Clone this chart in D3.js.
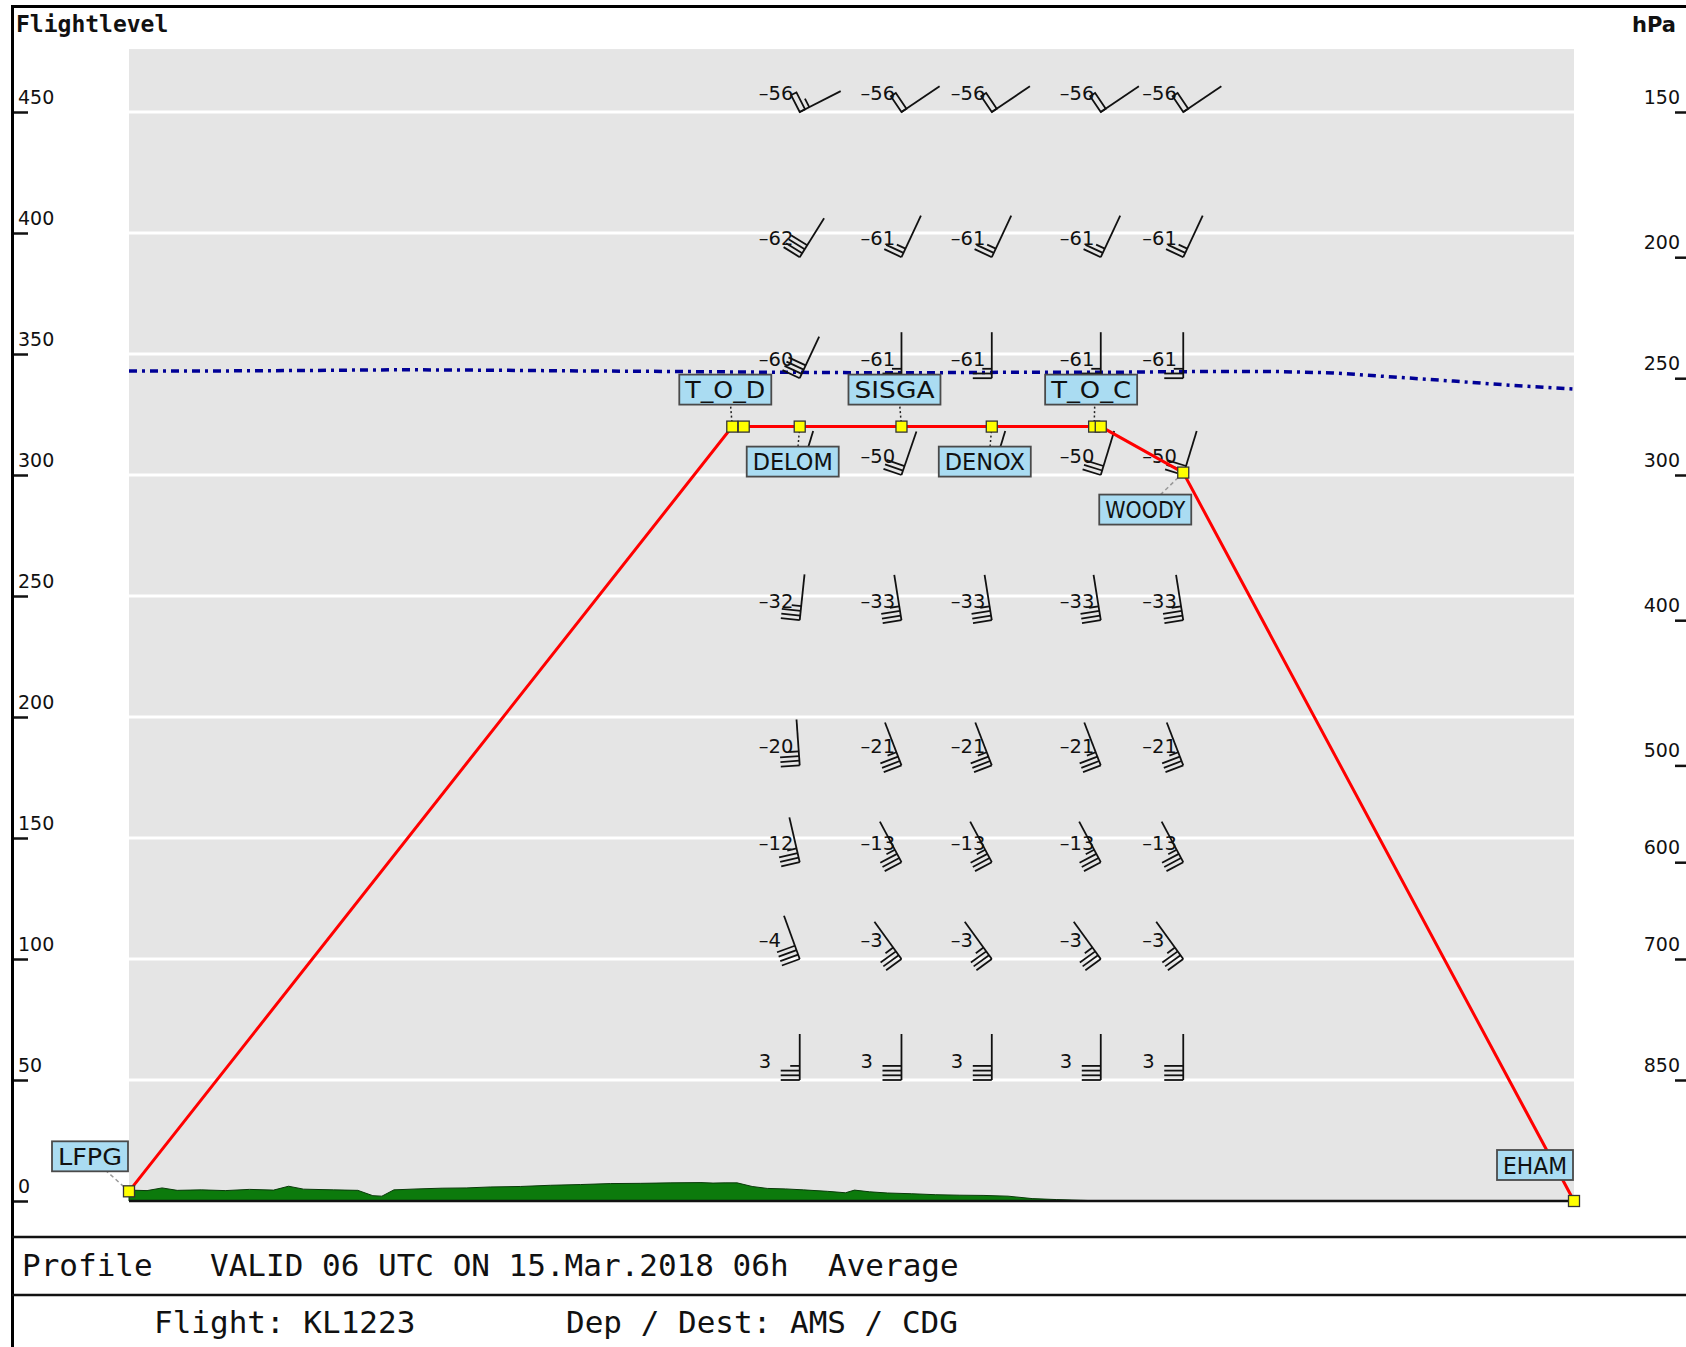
<!DOCTYPE html>
<html>
<head>
<meta charset="UTF-8">
<title>Flight profile KL1223</title>
<script src="https://d3js.org/d3.v7.min.js"></script>
<style>
  body { margin: 0; background: #fff; }
  svg text { font-family: "DejaVu Sans", sans-serif; fill: #111; }
  .mono { font-family: "DejaVu Sans Mono", monospace; }
</style>
</head>
<body>
<svg id="chart" width="1686" height="1347"></svg>
<script>
// route: distance along track (NM) and flight level
const wpNames = ['LFPG', 'T_O_D', '', 'DELOM', 'SISGA', 'DENOX', 'T_O_C', '', 'WOODY', 'EHAM'];
const wpDist  = [0, 100.2, 102.1, 111.4, 128.3, 143.3, 160.3, 161.4, 175.1, 240];
const wpFL    = [4, 320, 320, 320, 320, 320, 320, 320, 301, 0];

// tropopause height
const tropoDist = [0, 15, 30, 45, 60, 75, 90, 105, 120, 135, 150, 165, 180, 190, 200, 210, 220, 230, 240];
const tropoFL   = [343, 343, 343.2, 343.5, 343.3, 343, 342.8, 342.5, 342.3, 342.3, 342.5, 342.5, 342.8, 342.8, 342.2, 340.5, 338.8, 337, 335.5];

// terrain (hundreds of ft)
const terrDist = [0, 3, 5.5, 8, 12, 16, 20, 24, 26.5, 29, 34, 38, 40.5, 42, 44, 48, 52, 56, 60, 65, 70, 75, 80, 85, 90, 95, 97, 99, 101, 103.5, 106, 109, 112, 116, 119, 120.5, 123, 126, 130, 134, 138, 142, 146, 150, 154, 158, 162, 240];
const terrFL   = [4.5, 4.3, 5.4, 4.4, 4.6, 4.3, 4.8, 4.5, 6.1, 4.9, 4.6, 4.4, 2.2, 2.0, 4.6, 5.0, 5.3, 5.4, 5.8, 6.0, 6.5, 6.8, 7.2, 7.3, 7.5, 7.6, 7.4, 7.5, 7.5, 6.0, 5.2, 5.0, 4.6, 4.0, 3.4, 4.5, 3.8, 3.3, 3.0, 2.6, 2.4, 2.3, 2.0, 1.0, 0.6, 0.3, 0, 0];

// pressure levels and their flight levels (right axis, barb rows)
const levelsHpa = [150, 200, 250, 300, 400, 500, 600, 700, 850];
const levelsFL  = [450, 390, 340, 300, 240, 180, 140, 100, 50];
const flTicks   = [0, 50, 100, 150, 200, 250, 300, 350, 400, 450];

// wind/temperature columns (at DELOM, SISGA, DENOX, T_O_C, WOODY)
// null = temperature hidden under a waypoint label
const barbCols = [111.4, 128.3, 143.3, 161.4, 175.1];
const barbTemps = [
  [-56, -56, -56, -56, -56],
  [-62, -61, -61, -61, -61],
  [-60, -61, -61, -61, -61],
  [null, -50, null, -50, -50],
  [-32, -33, -33, -33, -33],
  [-20, -21, -21, -21, -21],
  [-12, -13, -13, -13, -13],
  [-4, -3, -3, -3, -3],
  [3, 3, 3, 3, 3]
];
const barbDirs = [
  [243, 236, 236, 236, 236],
  [212, 205, 205, 205, 205],
  [205, 180, 180, 180, 180],
  [197, 199, 197, 197, 197],
  [186, 171, 171, 171, 171],
  [176, 159, 159, 159, 159],
  [167, 152, 152, 152, 152],
  [160, 144, 144, 144, 144],
  [180, 180, 180, 180, 180]
];
const barbSpeeds = [
  [55, 50, 50, 50, 50],
  [40, 25, 25, 25, 25],
  [40, 25, 25, 25, 25],
  [30, 30, 30, 30, 30],
  [35, 35, 35, 35, 35],
  [35, 35, 35, 35, 35],
  [35, 35, 35, 35, 35],
  [40, 35, 35, 35, 35],
  [35, 40, 40, 40, 40]
];

const svg = d3.select('#chart');
const x = d3.scaleLinear().domain([0, 240]).range([129, 1574]);
const y = d3.scaleLinear().domain([0, 450]).range([1201, 112]);

// plot background + grid
svg.append('rect')
  .attr('x', x(0)).attr('y', y(476))
  .attr('width', x(240) - x(0)).attr('height', y(0) - y(476))
  .attr('fill', '#e5e5e5');

svg.append('g').selectAll('line').data(flTicks.filter(d => d > 0)).enter()
  .append('line')
  .attr('x1', x(0)).attr('x2', x(240))
  .attr('y1', d => y(d)).attr('y2', d => y(d))
  .attr('stroke', '#fff').attr('stroke-width', 3);

// terrain
const terr = terrDist.map((d, i) => ({ d: d, fl: terrFL[i] }));
svg.append('path').datum(terr)
  .attr('d', d3.area().x(d => x(d.d)).y0(y(0)).y1(d => y(d.fl)))
  .attr('fill', '#0c7a0c').attr('stroke', '#0a3a0a').attr('stroke-width', 1);

svg.append('line')
  .attr('x1', x(0)).attr('x2', x(240)).attr('y1', y(0)).attr('y2', y(0))
  .attr('stroke', '#111').attr('stroke-width', 2.5);

// tropopause
const tropo = tropoDist.map((d, i) => ({ d: d, fl: tropoFL[i] }));
svg.append('path').datum(tropo)
  .attr('d', d3.line().x(d => x(d.d)).y(d => y(d.fl)))
  .attr('fill', 'none').attr('stroke', '#000096').attr('stroke-width', 3.5)
  .attr('stroke-dasharray', '8,5,3,5');

// wind barbs
const L = 46, F = 19, SP = 4.7, PW = 6;
const gB = svg.append('g');
function fmtT(t) { return t < 0 ? '\u2013' + Math.abs(t) : String(t); }
levelsFL.forEach((fl, r) => {
  barbCols.forEach((cd, c) => {
    const px = x(cd), py = y(fl);
    const a = barbDirs[r][c] * Math.PI / 180;
    const u = [-Math.sin(a), Math.cos(a)];
    const v = [u[1], -u[0]];
    const g = gB.append('g').attr('stroke', '#111').attr('stroke-width', 1.8).attr('fill', 'none');
    g.append('line').attr('x1', px).attr('y1', py)
      .attr('x2', px + L * u[0]).attr('y2', py + L * u[1]);
    let s = barbSpeeds[r][c], pos = 0;
    while (s >= 50) {
      const p0 = [px + u[0] * pos, py + u[1] * pos];
      const p1 = [px + u[0] * (pos + PW), py + u[1] * (pos + PW)];
      g.append('polygon').attr('points', [
        p0, [p0[0] + v[0] * F, p0[1] + v[1] * F],
        [p1[0] + v[0] * F, p1[1] + v[1] * F], p1].map(p => p.join(',')).join(' '));
      pos += PW + SP; s -= 50;
    }
    while (s >= 10) {
      const p0 = [px + u[0] * pos, py + u[1] * pos];
      g.append('line').attr('x1', p0[0]).attr('y1', p0[1])
        .attr('x2', p0[0] + v[0] * F).attr('y2', p0[1] + v[1] * F);
      pos += SP; s -= 10;
    }
    if (s >= 5) {
      const p0 = [px + u[0] * pos, py + u[1] * pos];
      g.append('line').attr('x1', p0[0]).attr('y1', p0[1])
        .attr('x2', p0[0] + v[0] * F / 2).attr('y2', p0[1] + v[1] * F / 2);
    }
    const t = barbTemps[r][c];
    if (t !== null) {
      gB.append('text').attr('x', px - 41).attr('y', py - 12)
        .attr('font-size', 19.5).text(fmtT(t));
    }
  });
});

// flight profile
const route = wpDist.map((d, i) => ({ d: d, fl: wpFL[i], name: wpNames[i] }));
svg.append('path').datum(route)
  .attr('d', d3.line().x(d => x(d.d)).y(d => y(d.fl)))
  .attr('fill', 'none').attr('stroke', '#ff0000').attr('stroke-width', 3);

// label layout: box centre offset from the point, box width, leader style
const labelLayout = {
  LFPG:  { dx: -39, dy: -35, w: 76, lead: 'gray' },
  T_O_D: { dx: -7,  dy: -37, w: 92, lead: 'dot' },
  DELOM: { dx: -7,  dy: 35,  w: 92, lead: 'dot' },
  SISGA: { dx: -7,  dy: -37, w: 92, lead: 'dot' },
  DENOX: { dx: -7,  dy: 35,  w: 92, lead: 'dot' },
  T_O_C: { dx: -3,  dy: -37, w: 92, lead: 'dot' },
  WOODY: { dx: -38, dy: 37,  w: 92, lead: 'gray' },
  EHAM:  { dx: -39, dy: -36, w: 76, lead: 'none' }
};
const named = route.filter(d => d.name);
svg.append('g').selectAll('line').data(named.filter(d => labelLayout[d.name].lead !== 'none')).enter()
  .append('line')
  .attr('x1', d => x(d.d)).attr('y1', d => y(d.fl))
  .attr('x2', d => x(d.d) + labelLayout[d.name].dx + (labelLayout[d.name].lead === 'dot' ? 4 : 0))
  .attr('y2', d => y(d.fl) + labelLayout[d.name].dy)
  .attr('stroke', d => labelLayout[d.name].lead === 'dot' ? '#222' : '#999')
  .attr('stroke-width', 1.5)
  .attr('stroke-dasharray', d => labelLayout[d.name].lead === 'dot' ? '2,2.5' : '4,3');

svg.append('g').selectAll('rect').data(route).enter()
  .append('rect')
  .attr('x', d => x(d.d) - 5.5).attr('y', d => y(d.fl) - 5.5)
  .attr('width', 11).attr('height', 11)
  .attr('fill', '#ffff00').attr('stroke', '#333').attr('stroke-width', 1.3);

const lab = svg.append('g').selectAll('g').data(named).enter().append('g')
  .attr('transform', d => 'translate(' + (x(d.d) + labelLayout[d.name].dx) + ',' + (y(d.fl) + labelLayout[d.name].dy) + ')');
lab.append('rect')
  .attr('x', d => -labelLayout[d.name].w / 2).attr('y', -15)
  .attr('width', d => labelLayout[d.name].w).attr('height', 30)
  .attr('fill', '#aadcf2').attr('stroke', '#4a4a4a').attr('stroke-width', 1.8);
lab.append('text')
  .attr('text-anchor', 'middle').attr('y', 8.5).attr('font-size', 23)
  .attr('textLength', d => labelLayout[d.name].w - 12).attr('lengthAdjust', 'spacingAndGlyphs')
  .text(d => d.name);

// left axis (flight level)
const axL = svg.append('g').attr('transform', 'translate(12,0)')
  .call(d3.axisRight(y).tickValues(flTicks).tickSize(16).tickFormat(d3.format('d')));
axL.select('.domain').remove();
axL.selectAll('.tick line').attr('stroke', '#111').attr('stroke-width', 2.5);
axL.selectAll('.tick text').attr('x', 6).attr('dy', -9).attr('font-size', 19)
  .attr('font-family', 'DejaVu Sans').attr('fill', '#111');

// right axis (hPa)
const axR = svg.append('g').attr('transform', 'translate(1686,0)')
  .call(d3.axisLeft(y).tickValues(levelsFL).tickSize(11)
    .tickFormat((d, i) => levelsHpa[i]));
axR.select('.domain').remove();
axR.selectAll('.tick line').attr('stroke', '#111').attr('stroke-width', 2.5);
axR.selectAll('.tick text').attr('x', -6).attr('dy', -9).attr('font-size', 19)
  .attr('font-family', 'DejaVu Sans').attr('fill', '#111');

// frame
svg.append('line').attr('x1', 11).attr('x2', 1686).attr('y1', 6.5).attr('y2', 6.5)
  .attr('stroke', '#000').attr('stroke-width', 3);
svg.append('line').attr('x1', 12.5).attr('x2', 12.5).attr('y1', 5).attr('y2', 1347)
  .attr('stroke', '#000').attr('stroke-width', 3);
[1237, 1295].forEach(yy => {
  svg.append('line').attr('x1', 12).attr('x2', 1686).attr('y1', yy).attr('y2', yy)
    .attr('stroke', '#111').attr('stroke-width', 2.5);
});

svg.append('text').attr('class', 'mono').attr('x', 16).attr('y', 32)
  .attr('font-size', 23).attr('font-weight', 'bold').text('Flightlevel');
svg.append('text').attr('x', 1632).attr('y', 32)
  .attr('font-size', 21).attr('font-weight', 'bold').text('hPa');

// footer
svg.append('text').attr('class', 'mono').attr('x', 22).attr('y', 1276).attr('font-size', 31).text('Profile');
svg.append('text').attr('class', 'mono').attr('x', 210).attr('y', 1276).attr('font-size', 31).text('VALID 06 UTC ON 15.Mar.2018 06h');
svg.append('text').attr('class', 'mono').attr('x', 828).attr('y', 1276).attr('font-size', 31).text('Average');
svg.append('text').attr('class', 'mono').attr('x', 154).attr('y', 1333).attr('font-size', 31).text('Flight: KL1223');
svg.append('text').attr('class', 'mono').attr('x', 566).attr('y', 1333).attr('font-size', 31).text('Dep / Dest: AMS / CDG');
</script>
</body>
</html>
